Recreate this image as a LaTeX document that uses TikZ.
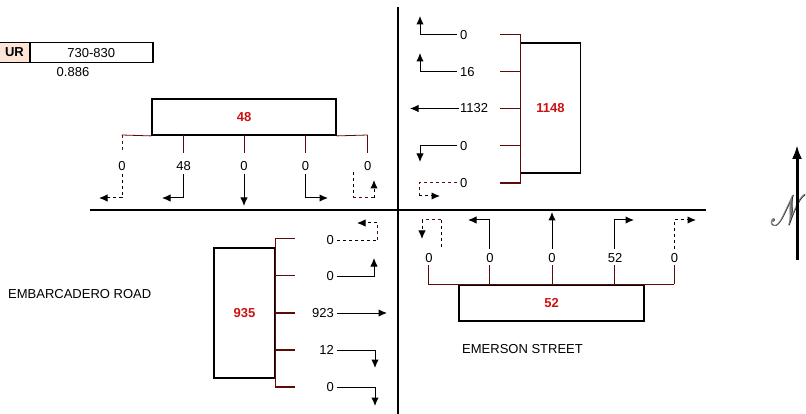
\documentclass[tikz,border=0pt]{standalone}
\usepackage{fontspec}
\setmainfont{Liberation Sans}
\usepackage{mathrsfs}
\usetikzlibrary{arrows.meta}
\definecolor{brk}{HTML}{5C0A0A}
\definecolor{rednum}{HTML}{CC1111}
\definecolor{peach}{HTML}{FCE4D6}
\begin{document}
\begin{tikzpicture}[x=1pt,y=-1pt,
  every node/.style={font=\fontsize{13}{15}\selectfont, inner sep=0pt},
  mainline/.style={line width=2pt},
  boxs/.style={draw, line width=1.8pt, minimum width=#1},
  boxs/.default=10pt,
  cell/.style={draw, line width=1.5pt, minimum height=20pt, anchor=north west},
  brkline/.style={draw=brk, line width=0.8pt},
  brkthick/.style={draw=brk, line width=1.8pt},
  arr/.style={line width=1pt, -{Latex[length=8.5pt,width=7.5pt]}},
  darr/.style={arr, dashed},
  dseg/.style={line width=1pt, dashed},
  bseg/.style={line width=1pt, dashed, draw=brk},
  rnum/.style={text=rednum, font=\bfseries\fontsize{13}{15}\selectfont},
]
\useasboundingbox (0,0) rectangle (806,414);

% ---- header table
\node[cell, fill=peach, minimum width=33pt] (hr) at (-4,42) {};
\node[anchor=east, font=\bfseries\fontsize{13}{15}\selectfont] (hrt) at (24,52) {UR};
\node[cell, minimum width=123pt] (tm) at (29,42) {730-830};
\node (phf) at (73,72) {0.886};

% ---- main street lines
\coordinate (vt) at (397.5,7);
\coordinate (vb) at (397.5,414);
\coordinate (hl) at (90,209.7);
\coordinate (hr2) at (706,209.7);
\draw[mainline] (vt) -- (vb);
\draw[mainline] (hl) -- (hr2);

% ---- north approach (box 48)
\node[boxs=184pt, minimum height=36pt, rnum] (bn) at (244,117) {48};
\draw[brkline] (121.7,135) -- (bn.south west) (bn.south east) -- (367.7,135);
\draw[bseg] (122,135) -- (122,153);
\foreach \x in {183,244,305,367.7} \draw[brkline] (\x,135) -- (\x,153);
\node (n1) at (122,166) {0};
\node (n2) at (183.5,166) {48};
\node (n3) at (244,166) {0};
\node (n4) at (305.5,166) {0};
\node (n5) at (367.7,166) {0};
\draw[darr] ([yshift=-3pt]n1.south) |- (99,198);
\draw[arr] ([yshift=-3pt]n2.south -| 183,0) |- (162,198);
\draw[arr] ([yshift=-3pt]n3.south) -- (244,206);
\draw[arr] ([yshift=-3pt]n4.south -| 305,0) |- (328,198);
\coordinate (u1) at (353,172);
\coordinate (u2) at (353,198);
\coordinate (u3) at (374,198);
\coordinate (u4) at (374,180);
\draw[dseg] (u1) -- (u2);
\draw[bseg] (u2) -- (u3);
\draw[darr] (u3) -- (u4);

% ---- east approach (box 1148)
\node[boxs=60pt, minimum height=130pt, rnum] (be) at (550.5,108) {1148};
\draw[brkline] (520,34.3) -- (520,182.7);
\foreach \y in {34.3,71.3,108.3,145.3} \draw[brkline] (500,\y) -- (520,\y);
\draw[brkthick] (500,182.7) -- (520.5,182.7);
\node[anchor=west] (e1) at (460,35) {0};
\node[anchor=west] (e2) at (460,72) {16};
\node[anchor=west] (e3) at (460,108.5) {1132};
\node[anchor=west] (e4) at (460,146) {0};
\node[anchor=west] (e5) at (460,183) {0};
\draw[arr] ([xshift=-3pt]e1.west) -| (420,16);
\draw[arr] ([xshift=-3pt]e2.west) -| (420,53);
\draw[arr] ([xshift=-1pt]e3.west) -- (410,108.5);
\draw[arr] ([xshift=-3pt]e4.west) -| (420,162);
\coordinate (r2) at (419,183);
\coordinate (r3) at (419,196);
\coordinate (r4) at (440,196);
\draw[bseg] ([xshift=-3pt]e5.west) -- (r2) -- (r3);
\draw[darr] (r3) -- (r4);

% ---- south approach (box 52)
\node[boxs=185pt, minimum height=36pt, rnum] (bs) at (551.5,303) {52};
\draw[brkline] (428,284.3) -- (674,284.3);
\foreach \x in {428,489,552,614,674} \draw[brkline] (\x,284.3) -- (\x,265);
\node (s1) at (429,258) {0};
\node (s2) at (490,258) {0};
\node (s3) at (552,258) {0};
\node (s4) at (615,258) {52};
\node (s5) at (674.5,258) {0};
\coordinate (t1) at (441,247);
\coordinate (t2) at (441,220);
\coordinate (t3) at (422,220);
\coordinate (t4) at (422,239);
\draw[dseg] (t1) -- (t2);
\draw[bseg] (t2) -- (t3);
\draw[darr] (t3) -- (t4);
\draw[arr] ([yshift=4pt]s2.north -| 489,0) |- (468,220);
\draw[arr] ([yshift=4pt]s3.north) -- (552,212);
\draw[arr] ([yshift=4pt]s4.north -| 614,0) |- (634,220);
\draw[darr] ([yshift=4pt]s5.north -| 674,0) |- (696,220);

% ---- west approach (box 935)
\node[boxs=61pt, minimum height=130pt, rnum] (bw) at (244.5,312.7) {935};
\draw[brkline] (275,238.3) -- (275,386.7);
\foreach \y in {238.3,275} \draw[brkline] (275,\y) -- (295,\y);
\foreach \y in {313,350,386.7} \draw[brkthick] (274.5,\y) -- (295,\y);
\node[anchor=east] (w1) at (334,240.5) {0};
\node[anchor=east] (w2) at (334,276) {0};
\node[anchor=east] (w3) at (334,313) {923};
\node[anchor=east] (w4) at (334,350) {12};
\node[anchor=east] (w5) at (334,387) {0};
\coordinate (v2) at (377,240.5);
\coordinate (v3) at (377,223);
\coordinate (v4) at (357,223);
\draw[dseg] ([xshift=3pt]w1.east) -- (v2);
\draw[bseg] (v2) -- (v3);
\draw[darr] (v3) -- (v4);
\draw[arr] ([xshift=3pt]w2.east) -| (374,258);
\draw[arr] ([xshift=3pt]w3.east) -- (387,313);
\draw[arr] ([xshift=3pt]w4.east) -| (375,368);
\draw[arr] ([xshift=3pt]w5.east) -| (375,406);

% ---- street names
\node[anchor=west] (emb) at (8,294) {EMBARCADERO ROAD};
\node[anchor=west] (eme) at (462,349.5) {EMERSON STREET};

% ---- north arrow
\node[text=black] (nlb) at (788.6,210.6) {\scalebox{2.4}[3.6]{$\mathscr{N}$}};
\node[text=gray] (nl) at (788,210) {\scalebox{2.4}[3.6]{$\mathscr{N}$}};
\coordinate (na) at (797,260);
\coordinate (nb) at (797,145);
\draw[line width=3pt, -{Latex[length=14pt,width=10pt]}] (na) -- (nb);
\end{tikzpicture}
\end{document}
